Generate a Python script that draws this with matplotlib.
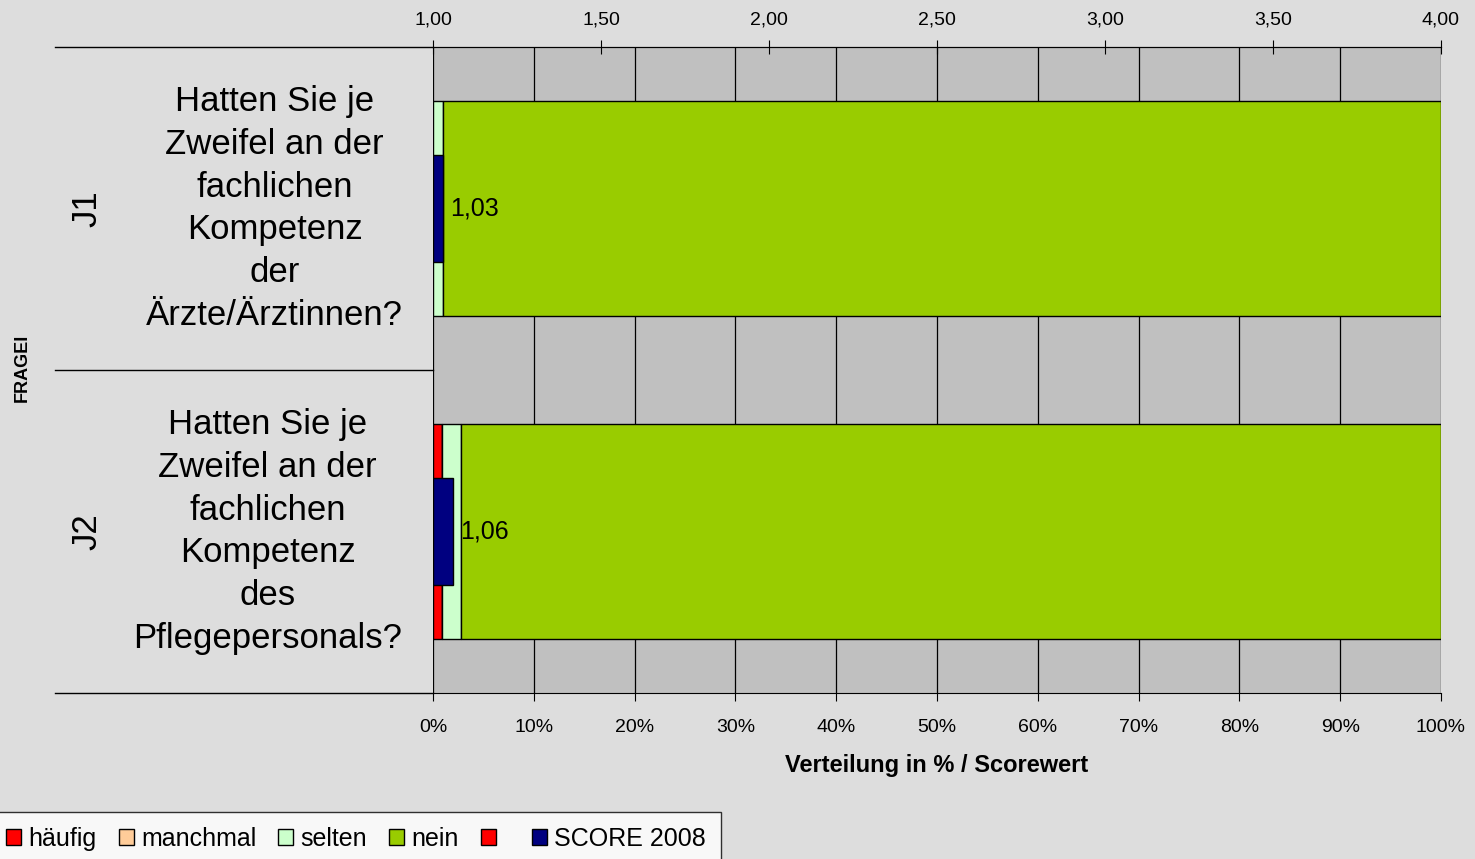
import numpy as np
import matplotlib.pyplot as plt
from matplotlib.patches import Patch
import matplotlib.transforms as mtransforms

plt.rcParams['font.family'] = ['Liberation Sans', 'DejaVu Sans']

# data
codes = ['J1', 'J2']
questions = ['Hatten Sie je\nZweifel an der\nfachlichen\nKompetenz\nder\nÄrzte/Ärztinnen?',
             'Hatten Sie je\nZweifel an der\nfachlichen\nKompetenz\ndes\nPflegepersonals?']
haeufig = [0.0, 0.9]
manchmal = [0.0, 0.0]
selten = [1.0, 1.9]
nein = [99.0, 97.2]
scores = [1.03, 1.06]
score_labels = ['1,03', '1,06']
pct_ticks = [0, 10, 20, 30, 40, 50, 60, 70, 80, 90, 100]
score_ticks = [1.0, 1.5, 2.0, 2.5, 3.0, 3.5, 4.0]

c_haeufig = '#FF0000'
c_manchmal = '#FFCC99'
c_selten = '#CCFFCC'
c_nein = '#99CC00'
c_score = '#000080'

fig = plt.figure(figsize=(14.75, 8.59), dpi=100, facecolor='#DDDDDD')
ax = fig.add_axes([433/1475, 1-693/859, 1008/1475, 646/859])
ax.set_facecolor('#C0C0C0')

y = np.arange(len(codes))
left = np.zeros(len(codes))
for vals, col in [(haeufig, c_haeufig), (manchmal, c_manchmal), (selten, c_selten), (nein, c_nein)]:
    v = np.array(vals)
    ax.barh(y, v, left=left, height=0.666, color=col, edgecolor='black', linewidth=1, zorder=3)
    left = left + v

ax.set_xlim(0, 100)
ax.set_ylim(1.5, -0.5)
ax.set_xticks(pct_ticks)
ax.set_xticklabels([f'{t}%' for t in pct_ticks], fontsize=14)
ax.set_yticks([])
ax.tick_params(axis='x', direction='out', length=6, pad=13, color='black')
ax.grid(axis='x', color='black', linewidth=0.9, zorder=1)
ax.set_axisbelow(True)
ax.spines['right'].set_visible(False)
ax.spines['left'].set_visible(False)
ax.set_xlabel('Verteilung in % / Scorewert', fontsize=17, fontweight='bold', labelpad=13)

# score axis on top
ax2 = ax.twiny()
ax2.set_xlim(1, 4)
ax2.set_ylim(1.5, -0.5)
sc = np.array(scores)
ax2.barh(y, sc - 1, left=1, height=0.333, color=c_score, edgecolor='black', linewidth=1, zorder=4)
for yi, s, lab in zip(y, scores, score_labels):
    ax2.text(s + 0.02, yi, lab, fontsize=18, va='center', ha='left', zorder=5)
ax2.set_xticks(score_ticks)
ax2.set_xticklabels([f'{t:.2f}'.replace('.', ',') for t in score_ticks], fontsize=14)
ax2.tick_params(axis='x', direction='inout', length=10, pad=8)
for s in ['right', 'left', 'bottom']:
    ax2.spines[s].set_visible(False)

# category labels on the left
trans = mtransforms.blended_transform_factory(ax.transAxes, ax.transData)
for yb in [-0.5, 0.5, 1.5]:
    ax.plot([-0.375, 0], [yb, yb], color='black', linewidth=1, transform=trans, clip_on=False)
for yi, code, q in zip(y, codes, questions):
    ax.text(-0.343, yi, code, rotation=90, fontsize=25, ha='center', va='center', transform=trans)
    ax.text(-0.157 - 0.007 * yi, yi, q, fontsize=25, ha='center', va='center',
            multialignment='center', linespacing=1.38, transform=trans)
fig.text(22/1475, 1-368/859, 'FRAGEI', rotation=90, fontsize=13, fontweight='bold',
         ha='center', va='center')

handles = [Patch(facecolor=c_haeufig, edgecolor='black'),
           Patch(facecolor=c_manchmal, edgecolor='black'),
           Patch(facecolor=c_selten, edgecolor='black'),
           Patch(facecolor=c_nein, edgecolor='black'),
           Patch(facecolor=c_haeufig, edgecolor='black'),
           Patch(facecolor=c_score, edgecolor='black')]
labels = ['häufig', 'manchmal', 'selten', 'nein', ' ', 'SCORE 2008']
leg = fig.legend(handles, labels, loc='upper left', bbox_to_anchor=(-0.006, 1-812/859), ncol=6,
                 fontsize=18, frameon=True, fancybox=False, edgecolor='black',
                 handlelength=0.6, handleheight=0.6, handletextpad=0.3,
                 columnspacing=0.87, borderpad=0.6, borderaxespad=0)
leg.get_frame().set_facecolor('white')
leg.get_frame().set_linewidth(1)

plt.savefig('out.png', dpi=100, facecolor=fig.get_facecolor())
